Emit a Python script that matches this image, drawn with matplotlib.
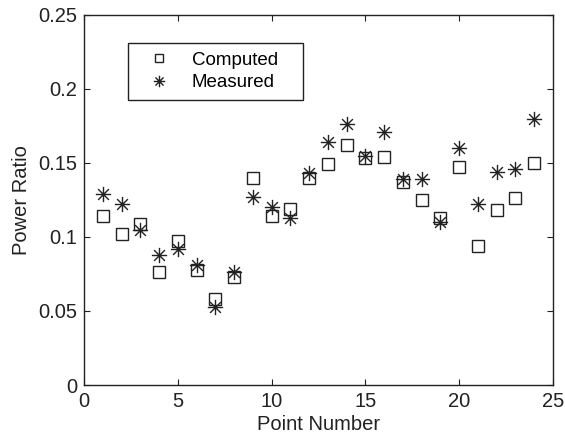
import matplotlib
matplotlib.use("Agg")
import matplotlib.pyplot as plt
from matplotlib.path import Path
import numpy as np

points = list(range(1, 25))
computed = [0.114, 0.102, 0.109, 0.076, 0.097, 0.078, 0.058, 0.073, 0.140, 0.114, 0.119, 0.140,
            0.149, 0.162, 0.153, 0.154, 0.137, 0.125, 0.113, 0.147, 0.094, 0.118, 0.126, 0.150]
measured = [0.129, 0.122, 0.105, 0.088, 0.092, 0.081, 0.053, 0.076, 0.127, 0.120, 0.113, 0.143,
            0.164, 0.176, 0.155, 0.171, 0.139, 0.139, 0.110, 0.160, 0.122, 0.144, 0.146, 0.180]
xticks = [0, 5, 10, 15, 20, 25]
yticks = [0, 0.05, 0.1, 0.15, 0.2, 0.25]
ytick_labels = ["0", "0.05", "0.1", "0.15", "0.2", "0.25"]

plt.rcParams['font.family'] = ['Liberation Sans', 'DejaVu Sans']

# MATLAB-style asterisk marker
d = 0.7071
verts = [(-1, 0), (1, 0), (0, -1), (0, 1), (-d, -d), (d, d), (-d, d), (d, -d)]
codes = [Path.MOVETO, Path.LINETO] * 4
asterisk = Path(verts, codes)

fig = plt.figure(figsize=(5.65, 4.38), dpi=100)
ax = fig.add_axes([0.1487, 0.121, 0.830, 0.845])

ax.plot(points, computed, linestyle='none', marker='s', markersize=8.5,
        markerfacecolor='none', markeredgecolor='#222222', markeredgewidth=1.0, label='Computed')
ax.plot(points, measured, linestyle='none', marker=asterisk, markersize=11,
        markeredgecolor='#222222', markeredgewidth=1.0, label='Measured')

ax.set_xlim(0, 25)
ax.set_ylim(0, 0.25)
ax.set_xticks(xticks)
ax.set_xticklabels([str(t) for t in xticks])
ax.set_yticks(yticks)
ax.set_yticklabels(ytick_labels)
ax.tick_params(direction='in', top=True, right=True, length=4, width=0.8, labelsize=14.5,
               colors='#222222', pad=5)
for s in ax.spines.values():
    s.set_linewidth(1.0)
    s.set_color('#222222')

ax.set_xlabel('Point Number', fontsize=14.5, color='#222222', labelpad=3)
ax.set_ylabel('Power Ratio', fontsize=14.5, color='#222222', labelpad=5)

leg = ax.legend(loc='upper left', bbox_to_anchor=(0.094, 0.776, 0.373, 0.148), mode='expand',
                fontsize=13.5, frameon=True, markerscale=0.75,
                fancybox=False, edgecolor='#222222', framealpha=1, borderpad=0.45,
                handlelength=2.4, handletextpad=0.55, labelspacing=0.3, borderaxespad=0)
leg.get_frame().set_linewidth(1.0)

fig.savefig('out.png', dpi=100)
